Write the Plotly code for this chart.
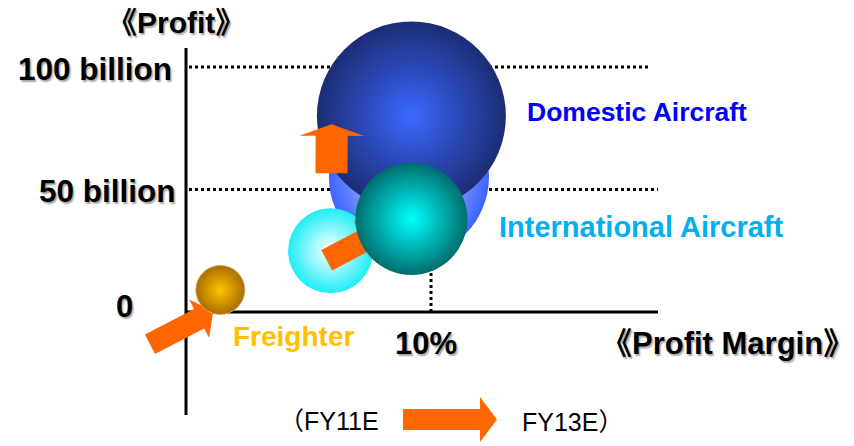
import plotly.graph_objects as go

# ---- data -------------------------------------------------------------
periods = ["FY11E", "FY13E"]
segments = ["Domestic Aircraft", "International Aircraft", "Freighter"]

# profit margin (%), profit (billion yen), bubble scale (relative sales)
domestic_margin = [9.1, 9.2]
domestic_profit = [55, 80]
domestic_scale = [717, 1000]

international_margin = [5.9, 9.2]
international_profit = [25, 38]
international_scale = [202, 351]

freighter_margin = [1.4]
freighter_profit = [9]
freighter_scale = [67]

y_tick_values = [100, 50, 0]
y_tick_labels = ["100 billion", "50 billion", "0"]
x_tick_values = [10]
x_tick_labels = ["10%"]

# ---- canvas / scale ---------------------------------------------------
W, H = 854, 446
ORIGIN_X, ORIGIN_Y = 186, 312          # pixel location of (0 %, 0 bn)
PX_PER_PCT, PX_PER_BN = 24.5, 2.45
# area-mode sizeref: largest bubble -> 189 px across
SIZEREF = 2 * 1000 / 189 ** 2

x_range = [-ORIGIN_X / PX_PER_PCT, (W - ORIGIN_X) / PX_PER_PCT]
y_range = [-(H - ORIGIN_Y) / PX_PER_BN, ORIGIN_Y / PX_PER_BN]


def dx(px):
    return (px - ORIGIN_X) / PX_PER_PCT


def dy(py):
    return (ORIGIN_Y - py) / PX_PER_BN


def arrow_points(tail, tip, shaft_w, head_w, head_len):
    """Block-arrow outline (in data units) from tail to tip given in pixels."""
    (x0, y0), (x1, y1) = tail, tip
    L = ((x1 - x0) ** 2 + (y1 - y0) ** 2) ** 0.5
    ux, uy = (x1 - x0) / L, (y1 - y0) / L
    nx, ny = -uy, ux
    bx, by = x1 - ux * head_len, y1 - uy * head_len
    s, h = shaft_w / 2, head_w / 2
    pts = [
        (x0 + nx * s, y0 + ny * s),
        (bx + nx * s, by + ny * s),
        (bx + nx * h, by + ny * h),
        (x1, y1),
        (bx - nx * h, by - ny * h),
        (bx - nx * s, by - ny * s),
        (x0 - nx * s, y0 - ny * s),
    ]
    pts.append(pts[0])
    return [dx(p[0]) for p in pts], [dy(p[1]) for p in pts]


ORANGE = "#ff6600"


def arrow_trace(tail, tip, shaft_w, head_w, head_len):
    xs, ys = arrow_points(tail, tip, shaft_w, head_w, head_len)
    return go.Scatter(x=xs, y=ys, mode="lines", fill="toself",
                      fillcolor=ORANGE, line=dict(width=0, color=ORANGE),
                      hoverinfo="skip", showlegend=False)


def bubble(x, y, scale, edge, center, line=None):
    return go.Scatter(
        x=[x], y=[y], mode="markers", hoverinfo="skip", showlegend=False,
        marker=dict(size=[scale], sizemode="area", sizeref=SIZEREF,
                    color=edge, opacity=1,
                    gradient=dict(type="radial", color=center),
                    line=line or dict(width=0)),
    )


fig = go.Figure()

# Domestic: FY11E (light) behind FY13E (dark)
fig.add_trace(bubble(domestic_margin[0], domestic_profit[0], domestic_scale[0],
                     "#3d63ff", "#e2e8ff"))
fig.add_trace(bubble(domestic_margin[1], domestic_profit[1], domestic_scale[1],
                     "#1c2c74", "#3a68ff"))
fig.add_trace(arrow_trace((331.5, 173.3), (331.7, 124.3), 32, 65, 11.5))

# International
fig.add_trace(bubble(international_margin[0], international_profit[0],
                     international_scale[0], "#1eeef6", "#ffffff"))
fig.add_trace(arrow_trace((326.7, 260.3), (378.0, 233.3), 23, 45, 16))
fig.add_trace(bubble(international_margin[1], international_profit[1],
                     international_scale[1], "#006e6e", "#00ffff"))

# Freighter
fig.add_trace(arrow_trace((150, 344.2), (213.3, 311.3), 22, 43, 16))
fig.add_trace(bubble(freighter_margin[0], freighter_profit[0], freighter_scale[0],
                     "#a86e00", "#ffc400",
                     line=dict(width=1, color="#d6a66a")))

# FY11E -> FY13E key arrow
fig.add_trace(arrow_trace((403, 419.5), (497, 419.5), 21, 45, 17))

# ---- axes and reference lines ----------------------------------------
shapes = [
    dict(type="line", x0=0, x1=0, y0=dy(48), y1=dy(415),
         line=dict(color="black", width=3)),
    dict(type="line", x0=0, x1=dx(658), y0=0, y1=0,
         line=dict(color="black", width=3)),
    dict(type="line", x0=dx(189), x1=dx(649), y0=100, y1=100,
         line=dict(color="black", width=3, dash="dot")),
    dict(type="line", x0=dx(189), x1=dx(658), y0=50, y1=50,
         line=dict(color="black", width=3, dash="dot")),
    dict(type="line", x0=10, x1=10, y0=0, y1=international_profit[1],
         line=dict(color="black", width=3, dash="dot")),
]
for s in shapes:
    s.update(xref="x", yref="y", layer="below")

FONT = "Liberation Sans, Arial, Noto Sans CJK JP, sans-serif"
SHADOW = "1.5px 1.5px 1.5px rgba(0,0,0,0.35)"


def label(text, x, y, size, color="black", bold=True, xanchor="center",
          shadow=SHADOW):
    return dict(text=text, x=x, y=y, xref="x", yref="y", showarrow=False,
                xanchor=xanchor, yanchor="middle",
                font=dict(family=FONT, size=size, color=color,
                          weight="bold" if bold else "normal", shadow=shadow))


annotations = [label("《Profit》", dx(176), dy(22), 30)]
# y tick labels
for v, t in zip(y_tick_values, y_tick_labels):
    if v == 0:
        annotations.append(label(t, dx(124), dy(306), 31))
    else:
        annotations.append(label(t, dx(174 + (4 if v == 50 else 0)), v - 0.8, 31.5,
                                 xanchor="right"))
for v, t in zip(x_tick_values, x_tick_labels):
    annotations.append(label(t, v - 0.2, dy(343), 31))
annotations += [
    label("《Profit Margin》", dx(727), dy(343), 31),
    label(segments[0], dx(637), dy(112), 26.5, color="#0000ff", shadow="none"),
    label(segments[1], dx(641), dy(227), 29, color="#00b0f0", shadow="none"),
    label(segments[2], dx(293), dy(336), 28, color="#ffc000", shadow="none"),
    label("（" + periods[0], dx(329), dy(421), 25, bold=False, shadow="none"),
    label(periods[1] + "）", dx(572), dy(422), 25, bold=False, shadow="none"),
]

fig.update_layout(
    width=W, height=H, autosize=False,
    margin=dict(l=0, r=0, t=0, b=0),
    paper_bgcolor="white", plot_bgcolor="white",
    showlegend=False, hovermode=False,
    xaxis=dict(range=x_range, visible=False, fixedrange=True),
    yaxis=dict(range=y_range, visible=False, fixedrange=True),
    shapes=shapes, annotations=annotations,
)

fig.write_html("out.html", config={"displayModeBar": False})
